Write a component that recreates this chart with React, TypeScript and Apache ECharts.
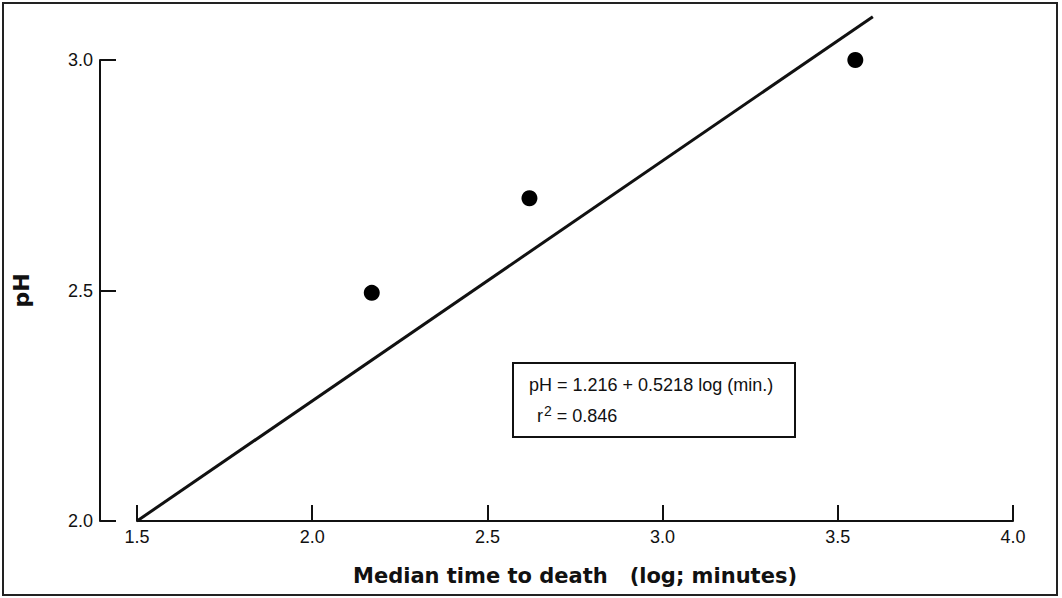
import React, { useEffect, useRef } from "react";
import * as echarts from "echarts";

const points: [number, number][] = [
  [2.17, 2.495],
  [2.62, 2.7],
  [3.55, 3.0],
];
const fitLine: [number, number][] = [
  [1.5, 2.0],
  [3.6, 3.094],
];
const equationText = "pH = 1.216 + 0.5218 log (min.)";
const rSquaredText = "0.846";
const xName = "Median time to death\u00a0\u00a0\u00a0(log; minutes)";
const yName = "pH";

export default function App() {
  const ref = useRef<HTMLDivElement>(null);
  useEffect(() => {
    document.body.style.margin = "0";
    const chart = echarts.init(ref.current!, null, { renderer: "svg" });
    const font = "DejaVu Sans";
    const font2 = "Liberation Sans";
    chart.setOption({
      animation: false,
      backgroundColor: "#fff",
      grid: { left: 137, right: 49, top: 60, bottom: 77 },
      xAxis: {
        type: "value",
        min: 1.5,
        max: 4.0,
        interval: 0.5,
        splitLine: { show: false },
        axisLine: { lineStyle: { color: "#111", width: 2 } },
        axisTick: { inside: true, length: 16, lineStyle: { color: "#111", width: 2 } },
        axisLabel: {
          color: "#111",
          fontSize: 18,
          fontFamily: font2,
          margin: 7,
          formatter: (v: number) => v.toFixed(1),
        },
        name: xName,
        nameLocation: "middle",
        nameGap: 44,
        nameTextStyle: { color: "#111", fontSize: 21, fontWeight: "bold", fontFamily: font },
      },
      yAxis: {
        type: "value",
        min: 2.0,
        max: 3.0,
        interval: 0.5,
        offset: 37,
        splitLine: { show: false },
        axisLine: { show: true, lineStyle: { color: "#111", width: 2 } },
        axisTick: { show: true, inside: true, length: 16, lineStyle: { color: "#111", width: 2 } },
        axisLabel: {
          color: "#111",
          fontSize: 18,
          fontFamily: font2,
          margin: 7,
          formatter: (v: number) => v.toFixed(1),
        },
        name: yName,
        nameLocation: "middle",
        nameRotate: 90,
        nameGap: 68,
        nameTextStyle: { color: "#111", fontSize: 22, fontWeight: "bold", fontFamily: font },
      },
      series: [
        {
          type: "line",
          data: fitLine,
          symbol: "none",
          clip: false,
          lineStyle: { color: "#111", width: 3 },
          silent: true,
        },
        {
          type: "scatter",
          data: points,
          symbol: "circle",
          symbolSize: 16,
          clip: false,
          itemStyle: { color: "#000", opacity: 1 },
        },
      ],
      graphic: [
        {
          type: "rect",
          shape: { x: 3, y: 3, width: 1054, height: 592 },
          style: { fill: "none", stroke: "#222", lineWidth: 2 },
          silent: true,
        },
        {
          type: "rect",
          shape: { x: 513, y: 363, width: 282, height: 74 },
          style: { fill: "#fff", stroke: "#111", lineWidth: 2 },
        },
        {
          type: "text",
          x: 529,
          y: 385,
          style: {
            text: equationText,
            fill: "#111",
            font: `18px "${font2}"`,
            verticalAlign: "middle",
          },
        },
        {
          type: "text",
          x: 537,
          y: 416,
          style: {
            text: "r{sup|2} = " + rSquaredText,
            fill: "#111",
            font: `18px "${font2}"`,
            verticalAlign: "middle",
            rich: {
              sup: {
                font: `14px "${font2}"`,
                fill: "#111",
                verticalAlign: "top",
                padding: [0, 0, 10, 1],
              },
            },
          },
        },
      ],
    });
    return () => chart.dispose();
  }, []);
  return (
    <div
      ref={ref}
      style={{ position: "fixed", left: 0, top: 0, width: 1062, height: 598 }}
    />
  );
}
